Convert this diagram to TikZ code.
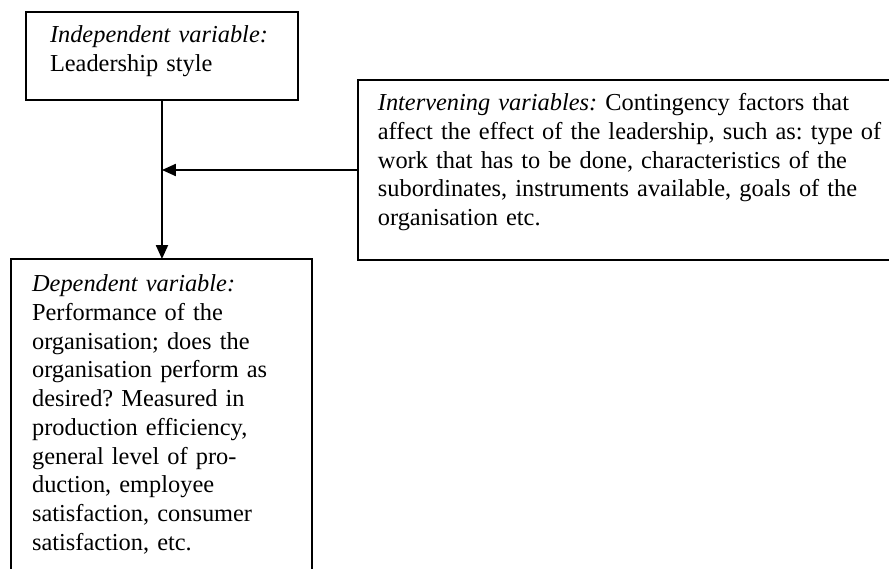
\documentclass[tikz,border=0pt]{standalone}
\usepackage{fontspec}
\setmainfont{Liberation Serif}
\usetikzlibrary{arrows.meta}
\frenchspacing

\begin{document}
\begin{tikzpicture}[->,>={Triangle[length=6.7pt,width=5.8pt]},line width=0.9pt,
    var box/.style={draw,rectangle,anchor=north west,align=left,outer sep=0pt,inner ysep=0pt,
      text height=14.7pt,font=\fontsize{11.7pt}{13.8pt}\selectfont}]
    \useasboundingbox (0,0) rectangle (426.72pt,-273.12pt);

    \node[var box,inner xsep=11.5pt,text width=107.5pt,text depth=27.5pt] (indep) at (12.5pt,-5.76pt)
      {\textit{Independent variable:}\\ Leadership style};
    \node[var box,inner xsep=9.6pt,text width=280pt,text depth=71.7pt] (interv) at (171.8pt,-38.4pt)
      {\textit{Intervening variables:} Contingency factors that\\
       affect the effect of the leadership, such as: type of\\
       work that has to be done, characteristics of the\\
       subordinates, instruments available, goals of the\\
       organisation etc.};
    \node[var box,inner xsep=10.1pt,text width=124.3pt,text height=15.7pt,text depth=150pt] (dep) at (5.3pt,-124.3pt)
      {\textit{Dependent variable:}\\
       Performance of the\\
       organisation; does the\\
       organisation perform as\\
       desired? Measured in\\
       production efficiency,\\
       general level of pro-\\
       duction, employee\\
       satisfaction, consumer\\
       satisfaction, etc.};

    \draw (indep.south) -- (indep.south |- dep.north);
    \draw (interv.west) -- (interv.west -| indep.south);
\end{tikzpicture}
\end{document}
